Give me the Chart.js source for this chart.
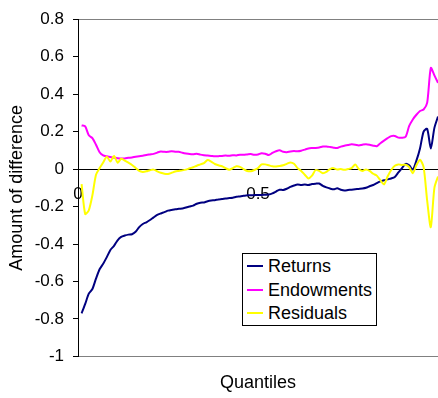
<!DOCTYPE html>
<html>
<head>
<meta charset="utf-8">
<script src="https://cdn.jsdelivr.net/npm/chart.js@4/dist/chart.umd.min.js"></script>
<style>
  html, body { margin: 0; padding: 0; background: #fff; }
  #wrap { position: relative; width: 438px; height: 398px; }
  #legend {
    position: absolute; left: 242px; top: 253px; width: 133px; height: 71px;
    border: 1px solid #000; background: #fff;
    font: 18px 'Liberation Sans', Arial, sans-serif; color: #000;
  }
  .swatch { position: absolute; left: 4px; width: 16px; height: 2px; }
  .label { position: absolute; left: 25px; line-height: 20px; white-space: nowrap; }
</style>
</head>
<body>
<div id="wrap">
  <canvas id="c" width="438" height="398"></canvas>
  <div id="legend"></div>
</div>
<script>
// Quantile positions (0.01 ... 1.00)
const quantiles = [
  0.01,0.02,0.03,0.04,0.05,0.06,0.07,0.08,0.09,0.10,
  0.11,0.12,0.13,0.14,0.15,0.16,0.17,0.18,0.19,0.20,
  0.21,0.22,0.23,0.24,0.25,0.26,0.27,0.28,0.29,0.30,
  0.31,0.32,0.33,0.34,0.35,0.36,0.37,0.38,0.39,0.40,
  0.41,0.42,0.43,0.44,0.45,0.46,0.47,0.48,0.49,0.50,
  0.51,0.52,0.53,0.54,0.55,0.56,0.57,0.58,0.59,0.60,
  0.61,0.62,0.63,0.64,0.65,0.66,0.67,0.68,0.69,0.70,
  0.71,0.72,0.73,0.74,0.75,0.76,0.77,0.78,0.79,0.80,
  0.81,0.82,0.83,0.84,0.85,0.86,0.87,0.88,0.89,0.90,
  0.91,0.92,0.93,0.94,0.95,0.96,0.97,0.98,0.99,1.00
];

const returns = [
  -0.77,-0.72,-0.665,-0.64,-0.585,-0.535,-0.505,-0.47,-0.432,-0.41,
  -0.38,-0.362,-0.355,-0.35,-0.348,-0.335,-0.31,-0.293,-0.284,-0.272,
  -0.258,-0.245,-0.237,-0.23,-0.222,-0.218,-0.215,-0.212,-0.21,-0.205,
  -0.2,-0.195,-0.185,-0.18,-0.178,-0.172,-0.168,-0.166,-0.162,-0.16,
  -0.157,-0.155,-0.153,-0.148,-0.146,-0.143,-0.14,-0.14,-0.139,-0.138,
  -0.138,-0.137,-0.136,-0.13,-0.12,-0.11,-0.112,-0.105,-0.095,-0.088,
  -0.083,-0.085,-0.083,-0.085,-0.08,-0.078,-0.077,-0.09,-0.098,-0.104,
  -0.108,-0.103,-0.11,-0.114,-0.112,-0.11,-0.108,-0.106,-0.104,-0.1,
  -0.092,-0.085,-0.075,-0.066,-0.06,-0.055,-0.05,-0.042,-0.018,0.005,
  0.028,0.02,-0.003,0.045,0.11,0.2,0.215,0.11,0.22,0.28
];

const endowments = [
  0.233,0.228,0.18,0.165,0.13,0.09,0.073,0.068,0.064,0.061,
  0.058,0.056,0.057,0.06,0.062,0.066,0.069,0.071,0.075,0.078,
  0.081,0.088,0.094,0.092,0.092,0.095,0.093,0.092,0.087,0.083,
  0.08,0.079,0.082,0.077,0.074,0.072,0.07,0.068,0.069,0.07,
  0.072,0.071,0.074,0.073,0.077,0.076,0.078,0.08,0.076,0.078,
  0.085,0.082,0.075,0.086,0.095,0.1,0.092,0.09,0.094,0.096,
  0.095,0.098,0.104,0.11,0.112,0.113,0.115,0.12,0.121,0.118,
  0.114,0.112,0.12,0.125,0.128,0.132,0.13,0.126,0.13,0.133,
  0.13,0.125,0.122,0.138,0.152,0.165,0.176,0.177,0.168,0.167,
  0.172,0.23,0.265,0.29,0.31,0.318,0.355,0.54,0.5,0.46
];

const residuals = [
  -0.08,-0.24,-0.22,-0.14,-0.03,0.005,0.035,0.066,0.04,0.07,
  0.034,0.055,0.045,0.034,0.022,0.006,-0.01,-0.015,-0.012,-0.006,
  -0.003,-0.012,-0.02,-0.025,-0.026,-0.02,-0.013,-0.01,-0.007,-0.003,
  0.004,0.01,0.018,0.025,0.032,0.048,0.04,0.027,0.02,0.015,
  0.005,-0.003,0.005,0.015,0.012,0.0,-0.01,-0.012,-0.005,0.005,
  0.025,0.025,0.02,0.015,0.014,0.016,0.02,0.028,0.035,0.028,
  0.005,-0.01,-0.03,-0.05,-0.035,-0.005,-0.01,-0.022,-0.015,0.0,
  0.005,-0.002,0.0,-0.004,0.0,0.005,0.025,0.0,-0.01,-0.002,
  -0.01,-0.025,-0.035,-0.06,-0.082,-0.04,-0.005,0.018,0.025,0.022,
  0.023,0.01,-0.022,0.02,0.05,0.01,-0.17,-0.31,-0.1,-0.04
];

const seriesNames = ['Returns', 'Endowments', 'Residuals'];
const seriesColors = ['#000080', '#FF00FF', '#FFFF00'];
const xTickValues = [0, 0.5, 1];
const xTickLabels = ['0', '0.5', ''];
const yTickValues = [-1, -0.8, -0.6, -0.4, -0.2, 0, 0.2, 0.4, 0.6, 0.8];
const yTickLabels = ['-1', '-0.8', '-0.6', '-0.4', '-0.2', '0', '0.2', '0.4', '0.6', '0.8'];

const FONT = "'Liberation Sans', Arial, sans-serif";
Chart.defaults.font.family = FONT;
Chart.defaults.color = '#000';

const toPoints = (vals) => quantiles.map((q, i) => ({ x: q, y: vals[i] }));
const seriesValues = [returns, endowments, residuals];

const chart = new Chart(document.getElementById('c'), {
  type: 'line',
  data: {
    datasets: seriesNames.map((name, i) => ({
      label: name,
      data: toPoints(seriesValues[i]),
      borderColor: seriesColors[i],
      backgroundColor: seriesColors[i],
      order: 3 - i
    }))
  },
  options: {
    responsive: false,
    animation: false,
    devicePixelRatio: 1,
    layout: { padding: { top: 18, right: 0, bottom: 0, left: 0 } },
    elements: {
      point: { radius: 0, hoverRadius: 0 },
      line: { borderWidth: 2, tension: 0.25, fill: false }
    },
    plugins: {
      legend: { display: false },
      tooltip: { enabled: false },
      title: {
        display: true,
        position: 'bottom',
        fullSize: false,
        text: 'Quantiles',
        color: '#000',
        font: { size: 18, weight: 'normal', family: FONT },
        padding: { top: 16, bottom: 4 }
      }
    },
    scales: {
      x: {
        type: 'linear',
        min: 0,
        max: 1,
        position: { y: 0 },
        z: 1,
        border: { color: '#000', width: 1 },
        grid: { drawOnChartArea: false, tickLength: 5, tickColor: '#000' },
        ticks: {
          color: '#000',
          font: { size: 17 },
          padding: 10,
          maxRotation: 0,
          autoSkip: false,
          callback: (v, i) => xTickLabels[i]
        },
        afterBuildTicks: (s) => { s.ticks = xTickValues.map(v => ({ value: v })); },
        afterFit: (s) => { s.paddingLeft = 0; s.paddingRight = 0; }
      },
      y: {
        min: -1,
        max: 0.8,
        border: { color: '#000', width: 1 },
        grid: {
          color: (ctx) => (ctx.tick && (ctx.tick.value === 0.8 || ctx.tick.value === -1)) ? '#808080' : 'rgba(0,0,0,0)',
          tickColor: '#000',
          tickLength: 5
        },
        ticks: {
          color: '#000',
          font: { size: 17 },
          padding: 9,
          callback: (v, i) => yTickLabels[i]
        },
        afterBuildTicks: (s) => { s.ticks = yTickValues.map(v => ({ value: v })); },
        afterFit: (s) => { s.width = 78; },
        title: {
          display: true,
          text: 'Amount of difference',
          color: '#000',
          font: { size: 18 },
          padding: { top: 6, bottom: 0 }
        }
      }
    }
  }
});

// Legend box drawn from the chart's datasets
const legend = document.getElementById('legend');
const rowCenters = [12, 36, 59];
chart.data.datasets.forEach((ds, i) => {
  const sw = document.createElement('div');
  sw.className = 'swatch';
  sw.style.top = (rowCenters[i] - 1) + 'px';
  sw.style.background = ds.borderColor;
  const lb = document.createElement('div');
  lb.className = 'label';
  lb.style.top = (rowCenters[i] - 10) + 'px';
  lb.textContent = ds.label;
  legend.appendChild(sw);
  legend.appendChild(lb);
});
</script>
</body>
</html>
